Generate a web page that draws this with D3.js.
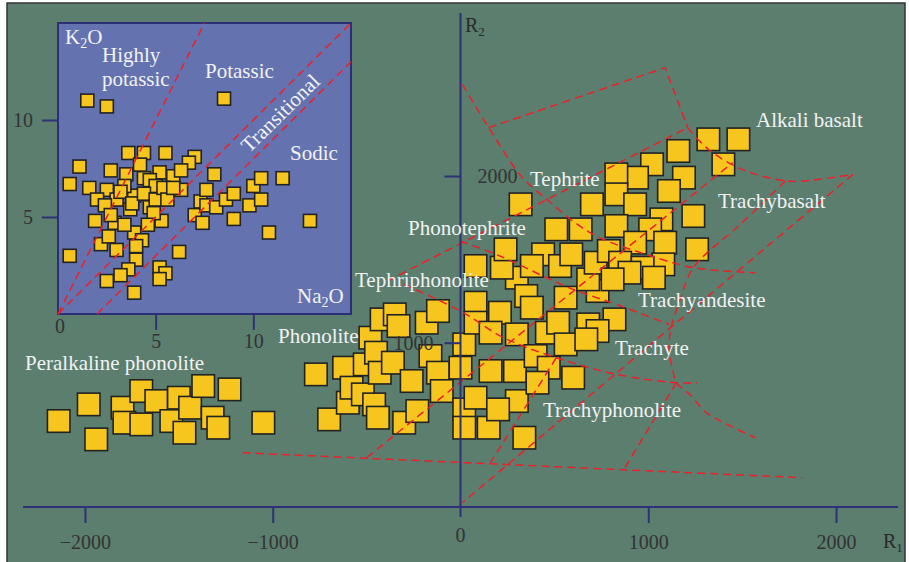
<!DOCTYPE html>
<html lang="en">
<head>
<meta charset="UTF-8">
<title>R1-R2 classification diagram</title>
<script src="https://d3js.org/d3.v7.min.js"></script>
<style>
  body { margin: 0; background: #fff; }
  svg { display: block; font-family: "Liberation Serif", "DejaVu Serif", serif; }
  .field { fill: #f2f2f2; font-size: 21px; }
  .axis-title { fill: #2a2a2a; font-size: 20px; }
  .tick text { fill: #333; font-size: 20px; font-family: "Liberation Serif", "DejaVu Serif", serif; }
  .tick line { stroke: #2e3175; stroke-width: 2px; }
  .axisline { stroke: #2e3175; stroke-width: 2px; }
  .bound { fill: none; stroke: #ec2027; stroke-width: 1.5px; stroke-dasharray: 8,5; }
  .sq { fill: #f6c61f; stroke: #222; stroke-width: 1.6px; }
</style>
</head>
<body>
<div id="chart"></div>
<script>
// ---- data: main R1-R2 diagram (R1, R2) ----
const peralkaline = [
  [-2140, 530], [-1980, 630], [-1940, 420], [-1800, 610], [-1790, 520], [-1700, 710],
  [-1700, 510], [-1620, 650], [-1540, 530], [-1500, 670], [-1470, 460], [-1440, 610],
  [-1370, 740], [-1320, 550], [-1290, 490], [-1230, 720], [-1050, 520]
];
const phonolites = [
  [-770, 810], [-700, 540], [-620, 850], [-600, 640], [-580, 730], [-520, 690], [-510, 870],
  [-480, 1030], [-460, 630], [-450, 940], [-440, 550], [-420, 1140], [-430, 820], [-350, 1170],
  [-330, 1100], [-360, 880], [-300, 520], [-260, 770], [-230, 590], [-180, 1120], [-160, 920],
  [-120, 1190], [-120, 820], [-100, 710], [0, 850], [20, 990], [20, 600], [20, 490], [80, 1240],
  [80, 670], [150, 490], [160, 830], [210, 1180], [290, 830], [300, 1050], [300, 650], [80, 1120],
  [160, 1060], [300, 1390], [350, 1280], [380, 1210], [560, 1270], [730, 1310], [820, 1140],
  [460, 1060], [520, 1120], [560, 990], [680, 1110], [730, 1070], [670, 1020], [400, 920],
  [470, 850], [410, 760], [600, 790], [200, 600], [340, 430]
];
const basalts = [
  [320, 1830], [510, 1680], [640, 1680], [700, 1830], [440, 1530], [530, 1460], [590, 1530],
  [380, 1460], [680, 1380], [720, 1480], [80, 1460], [220, 1450], [240, 1560],
  [1320, 2220], [1480, 2220], [1400, 2070], [1160, 2150], [1020, 2070], [1190, 1990],
  [1110, 1910], [940, 1990], [830, 2010], [830, 1890], [930, 1830], [1240, 1760], [1070, 1740],
  [830, 1700], [1010, 1680], [1090, 1600], [1260, 1560], [930, 1600], [790, 1550], [1080, 1470],
  [850, 1480], [970, 1450], [1030, 1390], [900, 1420], [810, 1380]
];

// field boundaries (R1, R2)
const curvedBounds = [
  [[10, 2550], [150, 2290], [330, 1990], [460, 1860], [610, 1720], [740, 1630], [960, 1540], [1240, 1450], [1570, 1420]],
  [[1210, 2290], [1320, 2160], [1500, 2040], [1740, 1970], [1910, 1980], [2090, 2010]],
  [[0, 1610], [210, 1520], [440, 1400], [600, 1320], [830, 1230], [1110, 1110]],
  [[-300, 1350], [0, 1190], [230, 1030], [510, 910], [830, 810], [1150, 760], [1260, 760]],
  [[1730, 1970], [1490, 1710], [1240, 1450], [1170, 1260], [1120, 1080], [1110, 960], [1130, 840],
   [1150, 760], [1220, 690], [1310, 580], [1420, 510], [1570, 430]]
];
const straightBounds = [
  [[150, 2290], [1090, 2650], [1210, 2290]],
  [[-390, 1370], [1210, 2290]],
  [[1150, 760], [870, 240]],
  [[2090, 2010], [10, 40]],
  [[-1160, 340], [1820, 190]],
  [[-500, 310], [1450, 2080]],
  [[510, 910], [160, 280]]
];

const r1Ticks = [-2000, -1000, 1000, 2000];
const r2Ticks = [1000, 2000];

// ---- data: inset Na2O vs K2O ----
const insetPts = [
  [1.5, 11.0], [2.5, 10.7], [8.5, 11.1], [1.1, 7.6], [0.6, 6.7], [0.6, 3.0],
  [3.6, 8.3], [4.4, 8.3], [5.5, 8.3], [7.0, 8.1],
  [2.7, 7.4], [3.5, 7.2], [4.4, 7.0], [5.2, 7.3], [5.9, 7.1], [6.3, 6.4], [6.7, 7.8], [6.3, 7.4],
  [4.2, 7.7], [4.7, 6.9], [5.0, 6.6], [3.9, 6.1],
  [1.6, 6.5], [2.5, 6.4], [2.0, 5.9], [3.0, 5.9], [3.4, 6.6], [3.2, 6.3],
  [2.4, 5.6], [3.7, 5.4], [3.8, 5.7], [4.4, 6.2], [4.7, 5.5], [5.0, 5.9], [5.4, 6.5], [5.6, 5.9], [5.9, 6.5],
  [1.9, 4.8], [2.9, 4.7], [2.7, 5.1], [5.3, 4.8], [4.9, 5.2], [4.6, 4.6], [3.9, 4.2], [3.4, 4.6],
  [2.2, 3.6], [2.6, 4.0], [3.0, 3.3], [4.3, 3.8], [4.0, 3.5], [4.0, 2.8], [3.6, 2.3], [3.2, 2.0],
  [2.5, 1.7], [3.9, 1.1], [5.2, 2.4], [5.5, 2.1], [5.2, 1.8], [6.2, 3.2],
  [7.3, 5.8], [7.0, 5.1], [7.4, 4.7], [7.6, 6.4], [8.0, 7.2], [7.6, 5.6], [8.1, 5.5], [8.6, 5.9],
  [9.0, 6.2], [9.0, 4.9], [9.8, 5.6], [10.0, 6.6], [10.4, 7.0], [10.4, 5.9], [11.5, 7.0],
  [10.8, 4.2], [12.9, 4.8]
];
const insetBounds = [
  [[0, 0], [7.5, 15]],
  [[0, 0], [15, 15]],
  [[2, 0], [15, 13]]
];
const insetTicks = [5, 10];

// ---- layout ----
const W = 909, H = 562;
const svg = d3.select("#chart").append("svg").attr("width", W).attr("height", H);

svg.append("rect")
  .attr("x", 7).attr("y", 3).attr("width", 898).attr("height", 565)
  .attr("fill", "#5b7e6f").attr("stroke", "#333").attr("stroke-width", 1.5);

const x = d3.scaleLinear().domain([-2330, 2330]).range([23, 898]);
const y = d3.scaleLinear().domain([0, 3000]).range([509.4, 9.3]);
const xAxisY = 507;
const sqMain = 22.5;

const line = d3.line().x(d => x(d[0])).y(d => y(d[1]));
const curve = d3.line().x(d => x(d[0])).y(d => y(d[1])).curve(d3.curveCatmullRom);

// squares
svg.append("g").selectAll("rect")
  .data(peralkaline.concat(phonolites, basalts))
  .enter().append("rect")
  .attr("class", "sq")
  .attr("x", d => x(d[0]) - sqMain / 2)
  .attr("y", d => y(d[1]) - sqMain / 2)
  .attr("width", sqMain).attr("height", sqMain);

// boundaries
svg.append("g").selectAll("path.c").data(curvedBounds).enter()
  .append("path").attr("class", "bound").attr("d", curve);
svg.append("g").selectAll("path.s").data(straightBounds).enter()
  .append("path").attr("class", "bound").attr("d", line);

// axes
const gx = svg.append("g")
  .attr("transform", `translate(0,${xAxisY})`)
  .call(d3.axisBottom(x).tickValues(r1Ticks).tickSize(16).tickPadding(12).tickFormat(d3.format("d")));
gx.select(".domain").remove();
svg.append("line").attr("class", "axisline")
  .attr("x1", x.range()[0]).attr("x2", x.range()[1])
  .attr("y1", xAxisY).attr("y2", xAxisY);

const gy = svg.append("g")
  .attr("transform", `translate(${x(0)},0)`)
  .call(d3.axisLeft(y).tickValues(r2Ticks).tickSize(16).tickPadding(11).tickFormat(d3.format("d")));
gy.select(".domain").remove();
gy.selectAll(".tick text").filter(d => d === 2000)
  .attr("x", 17).attr("text-anchor", "start");
svg.append("line").attr("class", "axisline")
  .attr("x1", x(0)).attr("x2", x(0))
  .attr("y1", 13).attr("y2", 517);

svg.append("text")
  .attr("x", x(0)).attr("y", 535).attr("dy", "0.35em")
  .attr("text-anchor", "middle").attr("fill", "#333").attr("font-size", 20)
  .text("0");

const r2Title = svg.append("text").attr("class", "axis-title").attr("x", 465).attr("y", 32).text("R");
r2Title.append("tspan").attr("font-size", 13).attr("dy", 4).text("2");
const r1Title = svg.append("text").attr("class", "axis-title").attr("x", 883).attr("y", 548).text("R");
r1Title.append("tspan").attr("font-size", 13).attr("dy", 4).text("1");

// field labels
const fieldLabels = [
  { t: "Alkali basalt", x: 756, y: 127 },
  { t: "Tephrite", x: 530, y: 186 },
  { t: "Trachybasalt", x: 718, y: 208 },
  { t: "Phonotephrite", x: 408, y: 235 },
  { t: "Tephriphonolite", x: 355, y: 287 },
  { t: "Phonolite", x: 278, y: 343 },
  { t: "Trachyandesite", x: 638, y: 307 },
  { t: "Trachyte", x: 615, y: 355 },
  { t: "Trachyphonolite", x: 543, y: 417 },
  { t: "Peralkaline phonolite", x: 25, y: 370 }
];
svg.append("g").selectAll("text").data(fieldLabels).enter()
  .append("text").attr("class", "field")
  .attr("x", d => d.x).attr("y", d => d.y)
  .text(d => d.t);

// ---- inset ----
const ix = d3.scaleLinear().domain([0, 15]).range([58, 351]);
const iy = d3.scaleLinear().domain([0, 15]).range([314, 23]);
const sqInset = 13;
const inset = svg.append("g");

inset.append("rect")
  .attr("x", ix(0)).attr("y", iy(15))
  .attr("width", ix(15) - ix(0)).attr("height", iy(0) - iy(15))
  .attr("fill", "#6473b0").attr("stroke", "#2c2f78").attr("stroke-width", 2);

inset.append("g").selectAll("rect").data(insetPts).enter()
  .append("rect").attr("class", "sq")
  .attr("x", d => ix(d[0]) - sqInset / 2)
  .attr("y", d => iy(d[1]) - sqInset / 2)
  .attr("width", sqInset).attr("height", sqInset);

const iline = d3.line().x(d => ix(d[0])).y(d => iy(d[1]));
inset.append("g").selectAll("path").data(insetBounds).enter()
  .append("path").attr("class", "bound").attr("d", iline);

const igy = inset.append("g")
  .attr("transform", `translate(${ix(0)},0)`)
  .call(d3.axisLeft(iy).tickValues(insetTicks).tickSize(16).tickPadding(9));
igy.select(".domain").remove();
const igx = inset.append("g")
  .attr("transform", `translate(0,${iy(0)})`)
  .call(d3.axisBottom(ix).tickValues(insetTicks).tickSize(16).tickPadding(4));
igx.select(".domain").remove();
inset.append("text")
  .attr("x", ix(0) + 2).attr("y", 326).attr("dy", "0.35em")
  .attr("text-anchor", "middle").attr("fill", "#333").attr("font-size", 20)
  .text("0");

const insetLabels = [
  { t: "Highly", x: 102, y: 62 },
  { t: "potassic", x: 102, y: 86 },
  { t: "Potassic", x: 205, y: 78 },
  { t: "Sodic", x: 290, y: 160 }
];
inset.append("g").selectAll("text").data(insetLabels).enter()
  .append("text").attr("class", "field")
  .attr("x", d => d.x).attr("y", d => d.y)
  .text(d => d.t);

inset.append("text").attr("class", "field")
  .attr("transform", "translate(280,113) rotate(-44.5)")
  .attr("text-anchor", "middle").attr("dy", "0.35em")
  .text("Transitional");

const k2o = inset.append("text").attr("class", "field").attr("x", 65).attr("y", 44).text("K");
k2o.append("tspan").attr("font-size", 14).attr("dy", 4).text("2");
k2o.append("tspan").attr("dy", -4).text("O");
const na2o = inset.append("text").attr("class", "field").attr("x", 297).attr("y", 303).text("Na");
na2o.append("tspan").attr("font-size", 14).attr("dy", 4).text("2");
na2o.append("tspan").attr("dy", -4).text("O");
</script>
</body>
</html>
